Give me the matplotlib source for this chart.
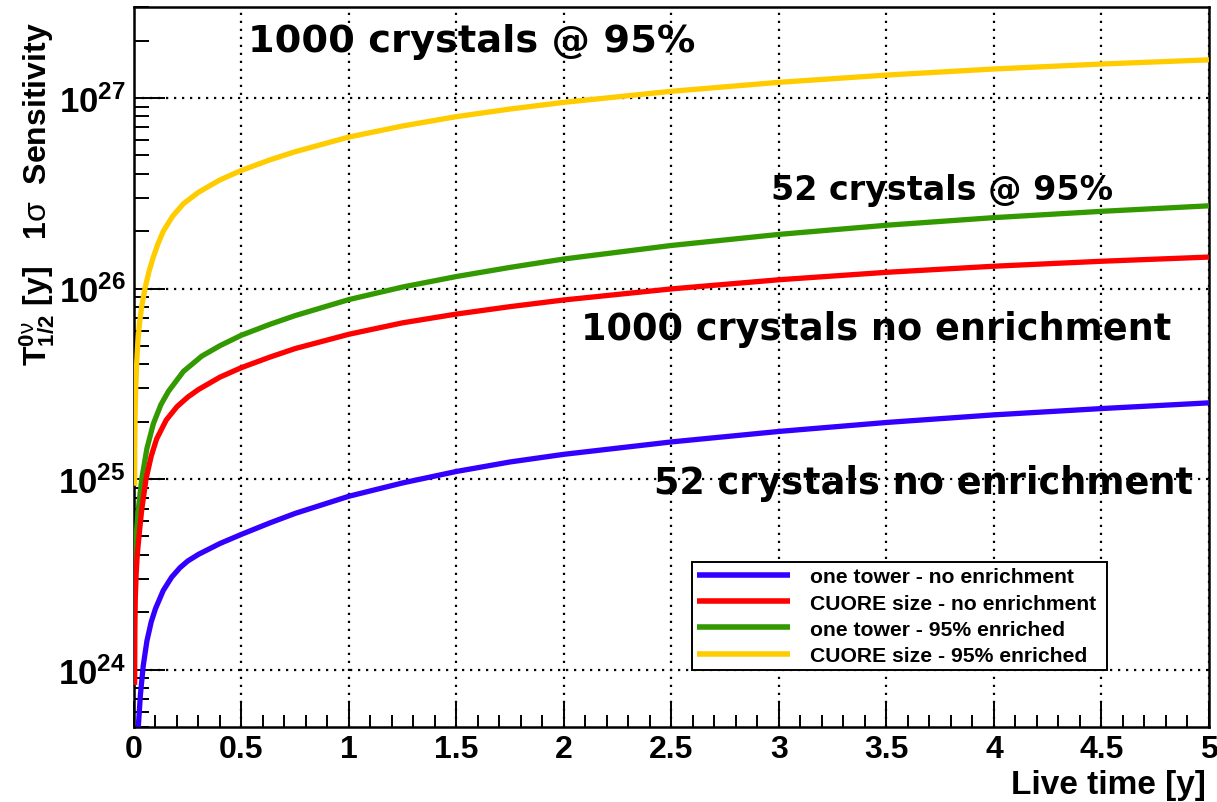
import numpy as np
import matplotlib
matplotlib.use('Agg')
import matplotlib.pyplot as plt
from matplotlib.ticker import MultipleLocator, LogLocator, NullFormatter, FixedLocator

plt.rcParams['font.family'] = ['Liberation Sans', 'DejaVu Sans']
plt.rcParams['mathtext.fontset'] = 'custom'
plt.rcParams['mathtext.rm'] = 'Liberation Sans'
plt.rcParams['mathtext.bf'] = 'Liberation Sans:bold'
plt.rcParams['mathtext.it'] = 'Liberation Sans:italic'

# series: live time [y] and log10 of T1/2 sensitivity [y]
labels = ['one tower - no enrichment', 'CUORE size - no enrichment',
          'one tower - 95% enriched', 'CUORE size - 95% enriched']
colors = ['#3300ff', '#ff0000', '#339900', '#ffcc00']

t_blue = [0.02, 0.03, 0.043, 0.06, 0.08, 0.1, 0.136, 0.175, 0.214, 0.25, 0.3, 0.4,
          0.5, 0.632, 0.75, 1.0, 1.25, 1.5, 1.75, 2.0, 2.5, 3.0, 3.5, 4.0, 4.5, 5.0]
log_blue = [23.70, 23.87, 24.02, 24.15, 24.25, 24.32, 24.415, 24.485, 24.535, 24.57, 24.605, 24.662,
            24.71, 24.77, 24.82, 24.91, 24.98, 25.04, 25.09, 25.13, 25.195, 25.25, 25.297,
            25.337, 25.37, 25.40]

t_red = [0.003, 0.004, 0.006, 0.01, 0.015, 0.025, 0.036, 0.056, 0.08, 0.105, 0.15, 0.2, 0.25,
         0.3, 0.4, 0.5, 0.632, 0.75, 1.0, 1.25, 1.5, 1.75, 2.0, 2.5, 3.0, 3.5, 4.0, 4.5, 5.0]
log_red = [23.92, 24.20, 24.37, 24.50, 24.60, 24.72, 24.84, 25.00, 25.12, 25.21, 25.31, 25.38, 25.43,
           25.47, 25.535, 25.585, 25.64, 25.685, 25.76, 25.82, 25.866, 25.905, 25.94, 25.998,
           26.046, 26.085, 26.117, 26.143, 26.165]

t_green = [0.004, 0.01, 0.02, 0.036, 0.06, 0.09, 0.125, 0.16, 0.23, 0.315, 0.4, 0.5, 0.632,
           0.75, 1.0, 1.25, 1.5, 1.75, 2.0, 2.5, 3.0, 3.5, 4.0, 4.5, 5.0]
log_green = [24.55, 24.70, 24.84, 25.00, 25.16, 25.29, 25.39, 25.46, 25.565, 25.645, 25.70, 25.755,
             25.812, 25.858, 25.942, 26.008, 26.063, 26.111, 26.155, 26.226, 26.284, 26.332,
             26.372, 26.405, 26.434]

t_yellow = [0.003, 0.0035, 0.005, 0.008, 0.012, 0.018, 0.025, 0.035, 0.051, 0.07, 0.09, 0.11,
            0.136, 0.18, 0.23, 0.3, 0.4, 0.5, 0.632, 0.75, 1.0, 1.25, 1.5, 1.75, 2.0, 2.5,
            3.0, 3.5, 4.0, 4.5, 5.0]
log_yellow = [24.965, 25.15, 25.33, 25.47, 25.60, 25.72, 25.81, 25.90, 26.00, 26.09, 26.165, 26.23,
              26.30, 26.38, 26.445, 26.505, 26.57, 26.62, 26.675, 26.718, 26.795, 26.853, 26.902,
              26.942, 26.977, 27.035, 27.082, 27.12, 27.152, 27.178, 27.20]

series = [(t_blue, log_blue), (t_red, log_red), (t_green, log_green), (t_yellow, log_yellow)]
zorders = [3, 4, 3, 5]

fig = plt.figure(figsize=(12.17, 8.03), dpi=100)
ax = fig.add_axes([0.1101, 0.0934, 0.8833, 0.8966])

for (t, lg), c, lab, z in zip(series, colors, labels, zorders):
    ax.plot(t, 10.0 ** np.array(lg), color=c, lw=3.8, label=lab, zorder=z,
            solid_capstyle='butt', solid_joinstyle='round')

ax.set_yscale('log')
ax.set_xlim(0, 5)
ax.set_ylim(5e23, 3e27)

ax.xaxis.set_minor_locator(MultipleLocator(0.1))
ax.set_xticks(np.arange(0, 5.01, 0.5))
ax.set_xticklabels(['0', '0.5', '1', '1.5', '2', '2.5', '3', '3.5', '4', '4.5', '5'])

ax.yaxis.set_major_locator(FixedLocator([1e24, 1e25, 1e26, 1e27]))
ax.set_yticklabels([r'$\mathbf{10^{24}}$', r'$\mathbf{10^{25}}$',
                    r'$\mathbf{10^{26}}$', r'$\mathbf{10^{27}}$'])
ax.yaxis.set_minor_locator(LogLocator(base=10, subs=np.arange(2, 10), numticks=20))
ax.yaxis.set_minor_formatter(NullFormatter())

ax.tick_params(axis='x', which='major', direction='in', length=19, width=1.4,
               labelsize=23, pad=5, top=False)
ax.tick_params(axis='x', which='minor', direction='in', length=9, width=1.4, top=False)
ax.tick_params(axis='y', which='major', direction='in', length=22, width=1.4,
               labelsize=25, pad=6, right=False)
ax.tick_params(axis='y', which='minor', direction='in', length=11, width=1.4, right=False)
for lab in ax.get_xticklabels():
    lab.set_fontweight('bold')

for s in ax.spines.values():
    s.set_linewidth(1.8)
    s.set_color('black')

ax.grid(True, which='major', color='black', linestyle=(0, (1, 2.6)), linewidth=1.6)

# annotations
ann = dict(family='DejaVu Sans', fontweight='bold', va='center', ha='left')
ax.text(0.53, 10 ** 27.30, '1000 crystals @ 95%', fontsize=27.6, **ann)
ax.text(2.965, 10 ** 26.52, '52 crystals @ 95%', fontsize=24, **ann)
ax.text(2.08, 10 ** 25.79, '1000 crystals no enrichment', fontsize=26.4, **ann)
ax.text(2.42, 10 ** 24.98, '52 crystals no enrichment', fontsize=26.4, **ann)

leg = ax.legend(loc='upper left', bbox_to_anchor=(0.519, 0.229, 0.386, 0), mode='expand',
                borderaxespad=0, handlelength=4.4, handletextpad=0.95,
                labelspacing=0.34, borderpad=0.25, fancybox=False, framealpha=1,
                edgecolor='black', prop={'weight': 'bold', 'size': 15.2})
leg.get_frame().set_linewidth(1.4)
for line in leg.get_lines():
    line.set_linewidth(4)

fig.text(0.9905, 0.0224, 'Live time [y]', ha='right', va='center', fontsize=24,
         fontweight='bold')
fig.text(0.031, 0.758,
         r'$\mathbf{T}^{\mathbf{0}\mathrm{\nu}}_{\mathbf{1/2}}$ [y]   1$\mathrm{\sigma}$  Sensitivity',
         rotation=90, ha='center', va='center', fontsize=23, fontweight='bold')

fig.savefig('out.png', dpi=100)
